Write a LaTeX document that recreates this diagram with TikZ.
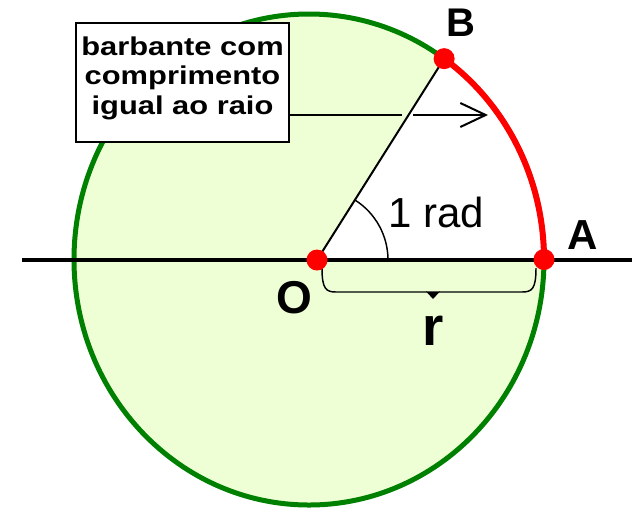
\documentclass[tikz,border=0pt]{standalone}
\usepackage{fontspec}
\setmainfont{Liberation Sans}
\newfontfamily\boxfont[FakeStretch=1.2]{Liberation Sans}
\usetikzlibrary{arrows.meta,calc}
\definecolor{fillgreen}{RGB}{238,255,214}
\definecolor{darkgreen}{RGB}{0,128,0}
\definecolor{ptred}{RGB}{255,0,0}
\begin{document}
\begin{tikzpicture}[x=0.75pt,y=-0.75pt,
  dot/.style={circle,fill=ptred,inner sep=0,minimum size=15.75pt},
  lab/.style={inner sep=0,font=\bfseries\fontsize{#1}{#1}\selectfont},
  thinline/.style={line width=1.1pt},
  ell/.style={x radius=235,y radius=245.5}]
\useasboundingbox (0,0) rectangle (639,512);
\coordinate (C) at (309,259.5);
\coordinate (O) at (317,260);
\coordinate (A) at ($(C)+(235,0)$);
\coordinate (B) at ($(C)+(-54.9:235 and 245.5)$);
% disc
\filldraw[fill=fillgreen,draw=darkgreen,line width=3.75pt] (C) ellipse [ell];
% white sector
\fill[white] (O) -- (A) arc[start angle=0,end angle=-54.9,ell] -- cycle;
% red arc
\draw[ptred,line width=4.5pt] (A) arc[start angle=0,end angle=-54.9,ell];
% axis
\coordinate (L) at (22,260);
\coordinate (R) at (632,260);
\draw[line width=3pt] (L) -- (R);
% radius OB
\draw[line width=1.5pt] (O) -- (B);
% angle mark
\draw[thinline] ($(O)+(71,0)$) arc[start angle=0,end angle=-57.7,radius=71];
% brace
\coordinate (brL) at (322,268);
\coordinate (brR) at (536,268);
\coordinate (brT) at (433,299);
\draw[thinline] (brL) .. controls (322,289) and (326,292) .. (336,292) -- (427,292)
  (439,292) -- (522,292) .. controls (532,292) and (536,289) .. (brR);
\fill (426,291.4) -- (440,291.4) -- (brT) -- cycle;
% label box
\node[draw,line width=1.5pt,fill=white,minimum width=159.75pt,minimum height=89.25pt,inner sep=0] (lbl) at (182.5,82.5) {};
\node[align=center,inner sep=0,font=\boxfont\bfseries\fontsize{19.3}{22.1}\selectfont] (lbltxt) at (182.5,78) {barbante com\\comprimento\\igual ao raio};
% arrow
\coordinate (arrT) at (488,115);
\coordinate (gapL) at (402,115);
\coordinate (gapR) at (413,115);
\draw[line width=1.5pt] (lbl.east |- arrT) -- (gapL);
\draw[line width=1.5pt,-{Straight Barb[length=19pt,width=18pt]}] (gapR) -- (arrT);
% dots
\node[dot] (Od) at (O) {};
\node[dot] (Ad) at (A) {};
\node[dot] (Bd) at (B) {};
% labels
\node[lab=30] (Bl) at (461,22.5) {B};
\node[lab=31.5] (Al) at (583,235) {A};
\node[lab=34.5] (Ol) at (294.5,297.5) {O};
\node[lab=41] (rl) at (433,331) {r};
\node[inner sep=0,font=\fontsize{31.5}{31.5}\selectfont] (rad) at (436.5,212.5) {1 rad};
\end{tikzpicture}
\end{document}
